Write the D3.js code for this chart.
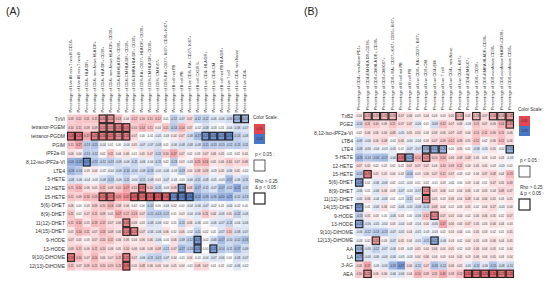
<!DOCTYPE html>
<html>
<head>
<meta charset="utf-8">
<script src="https://cdn.jsdelivr.net/npm/d3@7"></script>
<style>
  body { margin: 0; background: #fff; }
  text { font-family: "Liberation Sans", Arial, sans-serif; }
</style>
</head>
<body>
<div id="chart"></div>
<script>
// ---- panel A data ----
const rowsA = ['TxVI', 'tetranor-PGEM', 'tetranor-PGDM', 'PGIM', 'iPF2a-III', '8,12-iso-iPF2a-VI', 'LTE4',
  '5-HETE', '12-HETE', '15-HETE', '5(6)-DHET', '8(9)-DHET', '11(12)-DHET', '14(15)-DHET',
  '9-HODE', '13-HODE', '9(10)-DiHOME', '12(13)-DiHOME'];
const colsA = ['Live All non-T non-B CD16+', 'Live All non-T non-B', 'CD4+ HLA DR+', 'CD4+ non-Naive HLA DR+',
  'CD4+ HLA DR+ CD38+', 'CD4+ non-Naive HLA DR+ CD38+', 'CD4+EM HLA DR+ CD38+', 'CD4+CM HLA DR+ CD38+',
  'CD4+EMRA HLA DR+ CD38+', 'CD8+RA+ CD27+ HLA DR+ CD38+', 'CD8+CM HLA DR+ CD38+', 'CD8+ CM Ki67+',
  'CD8+RA+ CD27+ Ki67+ CD95+ Ki67+', 'B cell not PB', 'B cell PB', 'Live CD8+ RA+ CD27+ Ki67+',
  'B cell CXCR3+', 'Live CD4+ HLA DR+', 'Live CD4+CM', 'B cell not PB HLA DR+', 'Live T cell',
  'Live CD4+ non-Naive', 'Live CD4+'];
const valuesA = [
  [0.09, 0.11, 0.11, 0.11, 0.20, 0.20, 0.13, 0.04, 0.12, 0.10, 0.11, 0.12, 0.01, -0.12, -0.07, 0.07, -0.12, -0.12, -0.06, -0.06, -0.09, -0.19, -0.19],
  [0.10, 0.11, 0.09, 0.09, 0.21, 0.21, 0.25, 0.26, 0.10, 0.14, 0.11, 0.04, 0.11, -0.14, 0.14, 0.07, -0.02, -0.08, -0.03, 0.01, -0.04, -0.08, -0.07],
  [0.28, 0.28, 0.17, 0.25, 0.26, 0.27, 0.22, 0.26, 0.07, 0.00, -0.01, -0.05, -0.03, 0.04, 0.07, -0.08, -0.17, -0.27, -0.28, -0.27, -0.31, -0.13, -0.08],
  [0.11, 0.17, -0.13, -0.15, -0.04, 0.01, 0.00, -0.04, 0.05, -0.07, -0.07, -0.08, 0.01, -0.06, -0.08, -0.08, -0.08, -0.15, -0.13, -0.13, -0.12, -0.13, -0.11],
  [0.06, 0.04, -0.13, -0.12, 0.02, 0.11, 0.04, 0.06, 0.01, 0.05, 0.07, -0.11, 0.10, 0.17, 0.07, 0.02, 0.03, 0.07, 0.06, 0.05, -0.01, 0.02, 0.04],
  [-0.20, -0.22, -0.29, -0.15, -0.12, -0.13, -0.09, -0.06, -0.11, -0.06, -0.04, -0.11, 0.02, -0.13, 0.03, -0.03, 0.15, 0.16, 0.05, 0.06, 0.10, 0.07, 0.09],
  [-0.18, -0.14, 0.03, 0.04, -0.02, -0.04, -0.09, -0.14, -0.10, -0.08, -0.13, -0.05, -0.06, -0.03, -0.13, 0.04, 0.08, 0.09, -0.03, 0.05, -0.06, 0.05, -0.02],
  [-0.08, -0.06, -0.04, -0.03, -0.08, -0.13, -0.06, -0.11, -0.04, -0.11, -0.08, 0.03, -0.07, -0.03, -0.01, -0.06, -0.11, -0.08, -0.05, -0.03, -0.17, -0.06, -0.11],
  [0.11, 0.14, 0.06, 0.05, 0.12, 0.08, 0.10, 0.17, 0.10, 0.26, 0.10, -0.11, -0.03, 0.08, -0.26, 0.08, -0.17, -0.11, -0.07, -0.17, -0.12, -0.22, -0.11],
  [0.11, 0.09, 0.14, 0.13, 0.27, 0.27, 0.20, 0.22, 0.31, 0.28, 0.31, 0.32, 0.30, -0.29, -0.32, -0.34, -0.22, -0.18, -0.16, -0.20, -0.21, -0.12, -0.13],
  [0.06, 0.00, 0.03, 0.09, 0.10, 0.14, 0.08, 0.06, 0.02, 0.00, -0.12, 0.00, -0.03, 0.02, 0.00, -0.04, -0.06, -0.07, -0.02, 0.01, -0.04, -0.02, 0.00],
  [0.11, 0.02, 0.07, 0.11, 0.09, 0.05, 0.17, 0.12, 0.13, 0.07, -0.12, -0.13, -0.12, 0.01, 0.03, -0.04, -0.06, 0.11, 0.06, -0.06, 0.05, -0.12, -0.06],
  [0.11, 0.14, 0.05, 0.13, 0.12, 0.07, 0.06, 0.24, 0.06, 0.03, -0.08, -0.06, 0.02, 0.01, -0.11, 0.06, -0.06, -0.01, -0.06, -0.07, -0.11, -0.04, -0.06],
  [0.05, 0.14, 0.11, 0.07, 0.13, 0.09, 0.06, 0.24, 0.23, 0.07, -0.06, -0.06, 0.06, 0.02, 0.06, -0.02, -0.11, 0.02, 0.01, -0.07, 0.10, -0.08, -0.07],
  [0.07, 0.05, 0.03, 0.07, 0.10, 0.11, 0.06, 0.06, 0.04, 0.06, 0.06, -0.06, -0.01, 0.06, -0.09, -0.12, -0.27, -0.02, -0.08, -0.17, -0.10, -0.12, -0.16],
  [0.08, 0.11, 0.06, 0.11, 0.10, 0.06, 0.05, 0.10, 0.06, 0.06, 0.06, 0.08, -0.11, 0.07, -0.17, -0.13, -0.26, 0.00, -0.25, -0.14, -0.11, -0.17, -0.09],
  [0.26, 0.14, 0.07, 0.14, 0.06, 0.07, 0.11, 0.25, 0.07, -0.06, -0.11, -0.12, -0.07, 0.04, -0.01, 0.04, -0.01, -0.04, -0.07, -0.06, 0.00, -0.08, -0.07],
  [0.11, 0.07, 0.09, 0.11, 0.10, 0.10, 0.11, 0.29, 0.05, 0.08, 0.06, 0.06, 0.04, 0.05, 0.04, -0.01, 0.08, 0.07, 0.01, 0.02, -0.02, -0.06, -0.02]
];
// column indexes with Rho > 0.25 & p < 0.05, per row
const boxesA = [[4, 5, 21, 22], [4, 5, 6, 7], [0, 1, 3, 4, 5, 6, 7, 17, 18, 19, 20], [], [], [2], [], [],
  [9, 14], [4, 5, 8, 9, 10, 11, 12, 13, 14, 15], [], [], [7], [7, 8], [16], [16, 18], [0, 7], [7]];

// ---- panel B data ----
const rowsB = ['TxB2', 'PGE2', '8,12-iso-iPF2a-VI', 'LTB4', 'LTE4', '5-HETE', '12-HETE', '15-HETE',
  '5(6)-DHET', '8(9)-DHET', '11(12)-DHET', '14(15)-DHET', '9-HODE', '13-HODE', '9(10)-DiHOME',
  '12(13)-DiHOME', 'AA', 'LA', '3-AG', 'AEA'];
const colsB = ['CD4+ non-Naive PD1+', 'CD4+EM HLA DR+CD38+', 'CD8+CM HLA DR+ CD38+', 'CD8+CM Ki67+',
  'CD8+ RA+ CD27+ Ki67+ CD95+ Ki67+', 'B cell not PB', 'B cell PB', 'Live CD8+ RA+ CD27+ Ki67+',
  'Live CD8+CM', 'Live CD4+EM', 'Live T cell', 'Live CD4+ non-Naive', 'Live CD4+ Ki67+',
  'CD4+EM Ki67+', 'CD8+ CD38+', 'CD8+EMRA HLADR+CD38+', 'CD8+nonNaive CD38+',
  'CD8+nonNaive HLADR+CD38+', 'CD8+nonNaive CD95+'];
const valuesB = [
  [0.04, 0.15, 0.13, 0.15, 0.13, 0.07, 0.06, 0.03, 0.04, 0.03, 0.03, 0.05, 0.15, 0.05, 0.13, 0.07, 0.16, 0.13, 0.18],
  [-0.10, 0.11, 0.10, 0.06, 0.11, 0.07, 0.07, -0.06, 0.01, -0.09, 0.12, 0.07, 0.06, -0.03, 0.11, 0.07, 0.06, 0.14, 0.20],
  [0.02, 0.06, 0.06, 0.06, 0.08, -0.05, 0.05, 0.05, 0.03, 0.06, 0.06, 0.07, 0.07, 0.04, 0.11, 0.11, 0.09, 0.11, 0.06],
  [-0.09, -0.06, 0.06, 0.08, -0.02, 0.06, -0.04, -0.04, 0.03, 0.07, 0.09, 0.12, 0.09, 0.05, 0.12, 0.02, 0.06, 0.12, 0.06],
  [-0.09, -0.06, -0.04, -0.03, -0.05, 0.01, -0.07, -0.07, -0.19, -0.22, -0.20, 0.00, 0.05, 0.01, -0.08, -0.05, 0.05, -0.02, -0.20],
  [-0.19, -0.14, -0.16, -0.17, -0.06, 0.26, -0.22, 0.14, 0.21, 0.10, 0.14, 0.06, 0.08, 0.08, 0.05, 0.03, 0.03, 0.03, -0.03],
  [0.07, 0.05, 0.02, 0.02, 0.02, 0.02, 0.07, 0.07, 0.07, 0.04, 0.10, 0.09, 0.11, 0.04, 0.05, 0.05, 0.03, -0.03, 0.02],
  [-0.13, 0.25, 0.05, 0.05, 0.04, 0.03, -0.14, 0.03, 0.06, 0.07, 0.11, 0.07, 0.03, 0.02, 0.04, 0.07, 0.08, 0.04, 0.13],
  [-0.26, 0.01, -0.06, -0.06, 0.02, -0.02, -0.03, 0.01, 0.02, -0.01, 0.03, -0.02, 0.00, 0.03, 0.04, 0.01, 0.07, 0.05, 0.09],
  [-0.06, 0.01, -0.06, 0.06, 0.03, -0.07, -0.03, -0.07, 0.22, 0.05, 0.06, 0.02, 0.04, 0.06, 0.03, 0.05, 0.04, 0.09, 0.07],
  [-0.05, 0.06, -0.04, -0.06, 0.01, -0.01, -0.11, 0.02, 0.22, 0.05, 0.03, 0.06, 0.04, 0.08, 0.04, 0.06, 0.05, 0.03, 0.05],
  [-0.27, 0.01, -0.06, 0.06, 0.02, -0.06, -0.05, -0.08, -0.10, 0.09, 0.04, 0.02, 0.03, 0.05, 0.02, 0.04, 0.07, -0.03, 0.04],
  [-0.13, 0.05, 0.03, 0.00, -0.06, 0.03, 0.00, -0.06, 0.12, 0.22, 0.07, 0.05, 0.04, 0.02, 0.05, 0.06, 0.05, 0.02, 0.07],
  [-0.22, -0.06, -0.05, -0.04, 0.03, -0.04, 0.03, -0.04, 0.04, -0.06, 0.17, 0.06, 0.04, 0.07, 0.05, 0.03, 0.06, 0.04, 0.03],
  [-0.06, -0.12, -0.13, -0.13, -0.07, -0.05, 0.04, -0.05, -0.03, -0.03, 0.02, 0.03, 0.04, 0.00, 0.05, 0.03, 0.02, 0.01, 0.05],
  [-0.03, 0.02, 0.20, 0.03, -0.07, 0.05, 0.04, -0.05, -0.11, -0.22, -0.06, 0.03, 0.02, 0.04, 0.05, 0.03, 0.06, 0.04, 0.05],
  [-0.19, -0.06, -0.12, -0.07, -0.06, 0.03, -0.03, 0.05, 0.04, 0.06, 0.04, 0.05, 0.02, 0.03, 0.06, 0.04, 0.05, 0.02, 0.04],
  [-0.21, -0.06, -0.06, -0.06, -0.06, -0.03, -0.03, 0.04, 0.06, 0.04, 0.03, 0.04, 0.05, 0.03, 0.06, 0.04, 0.05, 0.03, 0.04],
  [0.08, 0.17, -0.03, -0.06, -0.19, -0.27, 0.06, -0.11, 0.07, -0.16, -0.12, 0.06, 0.05, -0.05, -0.12, -0.06, -0.15, -0.08, -0.10],
  [0.10, 0.21, 0.06, 0.06, -0.06, -0.06, 0.04, 0.14, 0.09, 0.11, 0.16, 0.08, 0.12, 0.30, 0.28, 0.29, 0.30, 0.27, 0.28]
];
const boxesB = [[1, 2, 3, 4, 12, 14, 16, 17, 18], [18], [], [], [8, 9, 10, 18], [5, 6, 8], [], [1],
  [0], [8], [8], [0], [9], [0], [], [2, 9], [0], [0], [], [1, 13, 14, 15, 16, 17, 18]];

const legendMax = 0.35;

const color = d3.scaleLinear()
  .domain([-legendMax, 0, legendMax])
  .range(['#4a76c6', '#ffffff', '#e4454f'])
  .clamp(true);

const svg = d3.select('#chart').append('svg')
  .attr('width', 558)
  .attr('height', 282);

function heatmap(opts) {
  const g = svg.append('g');
  const xScale = d3.scaleBand().domain(d3.range(opts.cols.length)).range([opts.x0, opts.x1]);
  const yScale = d3.scaleBand().domain(d3.range(opts.rows.length)).range([opts.y0, opts.y1]);
  const bw = xScale.bandwidth(), bh = yScale.bandwidth();

  // panel tag
  g.append('text')
    .attr('x', opts.tagX).attr('y', 15)
    .style('font-size', '10.5px').attr('fill', '#222')
    .text(opts.tag);

  // column headers (rotated)
  g.selectAll('.colhead')
    .data(opts.cols).enter().append('text')
    .attr('class', 'colhead')
    .attr('transform', function (d, i) {
      return 'translate(' + (xScale(i) + bw / 2 + 1.2) + ',' + (opts.y0 - 2) + ') rotate(-90)';
    })
    .style('font-size', '3.9px').attr('fill', '#333')
    .text(function (d) { return 'Percentage of ' + d; });

  // row labels
  g.selectAll('.rowlab')
    .data(opts.rows).enter().append('text')
    .attr('class', 'rowlab')
    .attr('x', opts.x0 - 2)
    .attr('y', function (d, i) { return yScale(i) + bh / 2 + 1.8; })
    .attr('text-anchor', 'end')
    .style('font-size', '5px').attr('fill', '#333')
    .text(function (d) { return d; });

  const cells = [];
  opts.values.forEach(function (row, r) {
    row.forEach(function (v, c) {
      cells.push({ r: r, c: c, v: v, box: opts.boxes[r].indexOf(c) >= 0 });
    });
  });

  g.selectAll('.cell')
    .data(cells).enter().append('rect')
    .attr('class', 'cell')
    .attr('x', function (d) { return xScale(d.c); })
    .attr('y', function (d) { return yScale(d.r); })
    .attr('width', bw).attr('height', bh)
    .attr('fill', function (d) { return color(d.v); });

  g.selectAll('.val')
    .data(cells).enter().append('text')
    .attr('class', 'val')
    .attr('x', function (d) { return xScale(d.c) + bw / 2; })
    .attr('y', function (d) { return yScale(d.r) + bh / 2 + 1; })
    .attr('text-anchor', 'middle')
    .style('font-size', '2.8px').attr('fill', '#333')
    .text(function (d) { return d.v.toFixed(2); });

  g.selectAll('.box')
    .data(cells.filter(function (d) { return d.box; })).enter().append('rect')
    .attr('class', 'box')
    .attr('x', function (d) { return xScale(d.c) + 0.5; })
    .attr('y', function (d) { return yScale(d.r) + 0.5; })
    .attr('width', bw - 1).attr('height', bh - 1)
    .attr('fill', 'none').attr('stroke', '#222').attr('stroke-width', 1.1);

  // legend
  const lx = opts.legX, ly = opts.legY, pY = opts.pY, rY = opts.rhoY;
  g.append('text').attr('x', lx).attr('y', ly)
    .style('font-size', '4.6px').attr('fill', '#333').text('Color Scale:');
  g.append('rect').attr('x', lx + 1).attr('y', ly + 5).attr('width', 11).attr('height', 10)
    .attr('fill', color(legendMax));
  g.append('rect').attr('x', lx + 1).attr('y', ly + 15).attr('width', 11).attr('height', 10)
    .attr('fill', color(-legendMax));
  g.append('text').attr('x', lx + 6.5).attr('y', ly + 11).attr('text-anchor', 'middle')
    .style('font-size', '3px').attr('fill', '#333').text(legendMax.toFixed(2));
  g.append('text').attr('x', lx + 6.5).attr('y', ly + 21).attr('text-anchor', 'middle')
    .style('font-size', '3px').attr('fill', '#333').text((-legendMax).toFixed(2));

  g.append('text').attr('x', lx + 2).attr('y', pY)
    .style('font-size', '4.6px').attr('fill', '#333').text('p < 0.05 :');
  g.append('rect').attr('x', lx + 1).attr('y', pY + 4).attr('width', 11).attr('height', 11)
    .attr('fill', 'none').attr('stroke', '#333').attr('stroke-width', 0.8);
  g.append('text').attr('x', lx + 2).attr('y', rY)
    .style('font-size', '4.6px').attr('fill', '#333').text('Rho > 0.25');
  g.append('text').attr('x', lx + 2).attr('y', rY + 6)
    .style('font-size', '4.6px').attr('fill', '#333').text('& p < 0.05 :');
  g.append('rect').attr('x', lx + 1).attr('y', rY + 10).attr('width', 11).attr('height', 11)
    .attr('fill', 'none').attr('stroke', '#222').attr('stroke-width', 1.2);
}

heatmap({ tag: '(A)', tagX: 6, rows: rowsA, cols: colsA, values: valuesA, boxes: boxesA,
  x0: 67, x1: 249, y0: 114.5, y1: 270.5, legX: 253, legY: 119, pY: 156, rhoY: 183 });
heatmap({ tag: '(B)', tagX: 304, rows: rowsB, cols: colsB, values: valuesB, boxes: boxesB,
  x0: 355, x1: 514, y0: 112, y1: 278, legX: 518, legY: 111, pY: 162, rhoY: 189 });
</script>
</body>
</html>
